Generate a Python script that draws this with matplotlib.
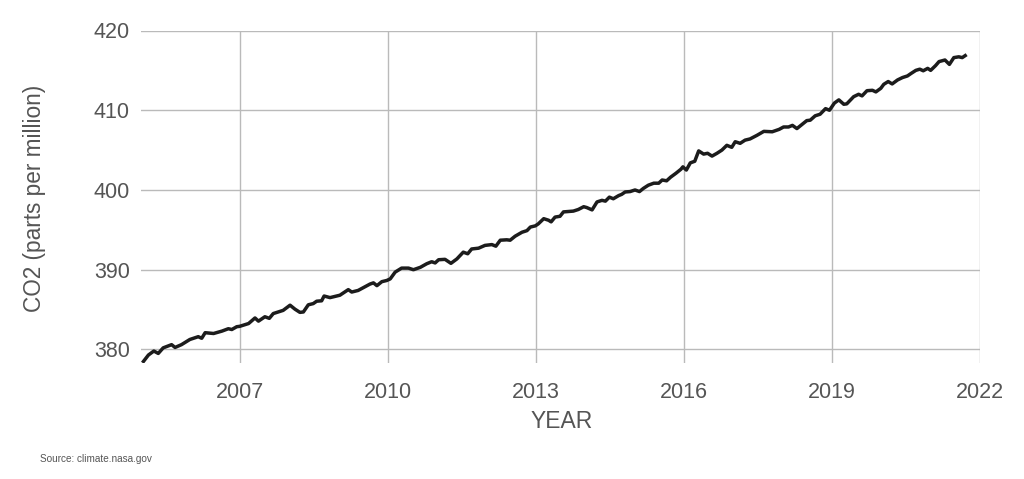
import matplotlib
matplotlib.use("Agg")
import matplotlib.pyplot as plt

years = [
    2005.05, 2005.15, 2005.26, 2005.35, 2005.45, 2005.62, 2005.69, 2005.82, 2005.99,
    2006.16, 2006.23, 2006.30, 2006.47, 2006.64, 2006.77, 2006.84, 2006.94, 2007.00,
    2007.18, 2007.31, 2007.38, 2007.51, 2007.60, 2007.68, 2007.88, 2008.02, 2008.12,
    2008.22, 2008.29, 2008.39, 2008.49, 2008.56, 2008.66, 2008.71, 2008.83, 2009.03,
    2009.20, 2009.27, 2009.40, 2009.64, 2009.71, 2009.78, 2009.88, 2009.98, 2010.05,
    2010.15, 2010.28, 2010.42, 2010.52, 2010.66, 2010.79, 2010.89, 2010.96, 2011.03,
    2011.16, 2011.28, 2011.40, 2011.53, 2011.62, 2011.70, 2011.84, 2011.97, 2012.11,
    2012.19, 2012.28, 2012.41, 2012.48, 2012.58, 2012.72, 2012.82, 2012.89, 2012.99,
    2013.05, 2013.16, 2013.26, 2013.31, 2013.39, 2013.49, 2013.56, 2013.76, 2013.86,
    2013.97, 2014.03, 2014.14, 2014.24, 2014.34, 2014.41, 2014.49, 2014.57, 2014.68,
    2014.74, 2014.81, 2014.91, 2015.01, 2015.10, 2015.18, 2015.28, 2015.39, 2015.49,
    2015.56, 2015.65, 2015.73, 2015.84, 2015.94, 2015.98, 2016.05, 2016.13, 2016.22,
    2016.30, 2016.40, 2016.48, 2016.57, 2016.67, 2016.77, 2016.87, 2016.97, 2017.04,
    2017.14, 2017.24, 2017.34, 2017.48, 2017.62, 2017.79, 2017.93, 2018.02, 2018.12,
    2018.20, 2018.29, 2018.39, 2018.49, 2018.56, 2018.66, 2018.76, 2018.87, 2018.95,
    2019.05, 2019.14, 2019.24, 2019.30, 2019.44, 2019.54, 2019.61, 2019.71, 2019.82,
    2019.89, 2019.99, 2020.05, 2020.14, 2020.22, 2020.33, 2020.43, 2020.53, 2020.60,
    2020.70, 2020.78, 2020.85, 2020.94, 2021.00, 2021.10, 2021.17, 2021.29, 2021.38,
    2021.47, 2021.57, 2021.64, 2021.70,
]
co2_ppm = [
    378.5, 379.3, 379.8, 379.5, 380.2, 380.6, 380.25, 380.6, 381.25,
    381.6, 381.4, 382.1, 382.0, 382.3, 382.6, 382.5, 382.85, 382.9,
    383.25, 383.95, 383.55, 384.1, 383.9, 384.5, 384.9, 385.55, 385.05,
    384.65, 384.7, 385.6, 385.75, 386.05, 386.1, 386.7, 386.5, 386.8,
    387.5, 387.2, 387.4, 388.2, 388.35, 388.0, 388.5, 388.65, 388.85,
    389.7, 390.2, 390.2, 390.0, 390.3, 390.75, 391.0, 390.85, 391.25,
    391.3, 390.8, 391.35, 392.2, 392.0, 392.6, 392.7, 393.05, 393.15,
    392.95, 393.7, 393.75, 393.7, 394.2, 394.7, 394.9, 395.35, 395.5,
    395.75, 396.4, 396.2, 396.0, 396.6, 396.7, 397.25, 397.35, 397.55,
    397.9, 397.8, 397.5, 398.5, 398.7, 398.6, 399.1, 398.9, 399.3,
    399.45, 399.75, 399.8, 400.0, 399.8, 400.2, 400.6, 400.85, 400.85,
    401.25, 401.15, 401.6, 402.1, 402.6, 402.9, 402.5, 403.4, 403.6,
    404.9, 404.5, 404.6, 404.25, 404.6, 405.0, 405.6, 405.35, 406.05,
    405.85, 406.25, 406.4, 406.85, 407.35, 407.3, 407.6, 407.9, 407.9,
    408.1, 407.7, 408.2, 408.7, 408.75, 409.3, 409.5, 410.2, 410.0,
    410.9, 411.3, 410.75, 410.8, 411.7, 412.0, 411.8, 412.45, 412.5,
    412.3, 412.75, 413.25, 413.6, 413.3, 413.8, 414.1, 414.3, 414.6,
    415.0, 415.15, 414.95, 415.25, 415.0, 415.6, 416.1, 416.3, 415.75,
    416.6, 416.7, 416.6, 416.85,
]
x_ticks = [2007, 2010, 2013, 2016, 2019, 2022]
y_ticks = [380, 390, 400, 410, 420]
x_label = "YEAR"
y_label = "CO2 (parts per million)"
source_text = "Source: climate.nasa.gov"

plt.rcParams['font.family'] = ['Liberation Sans', 'DejaVu Sans']
text_color = "#555555"

fig = plt.figure(figsize=(10.24, 4.79), dpi=100)
ax = fig.add_axes([141 / 1024, 1 - 363 / 479, (980 - 141) / 1024, (363 - 30.5) / 479])

ax.plot(years, co2_ppm, color="#1c1c1c", linewidth=2.5, solid_joinstyle="round")

ax.set_xlim(2005, 2022)
ax.set_ylim(378.3, 420)
ax.set_xticks(x_ticks)
ax.set_yticks(y_ticks)
ax.set_xticklabels([str(t) for t in x_ticks])
ax.set_yticklabels([str(t) for t in y_ticks])
ax.tick_params(axis="both", length=0, labelsize=15.5, labelcolor=text_color)
ax.tick_params(axis="x", pad=13.5)
ax.tick_params(axis="y", pad=8)
ax.grid(True, color="#bababa", linewidth=1.0)
ax.set_axisbelow(True)
for s in ax.spines.values():
    s.set_visible(False)

fig.text(562 / 1024, 1 - 422 / 479, x_label, ha="center", va="center",
         fontsize=16.5, color=text_color)
fig.text(35 / 1024, 1 - 198 / 479, y_label, ha="center", va="center",
         rotation=90, fontsize=16.3, color=text_color)
fig.text(40 / 1024, 1 - 459 / 479, source_text, ha="left", va="center",
         fontsize=7.2, color=text_color)

fig.savefig("out.png", dpi=100)
